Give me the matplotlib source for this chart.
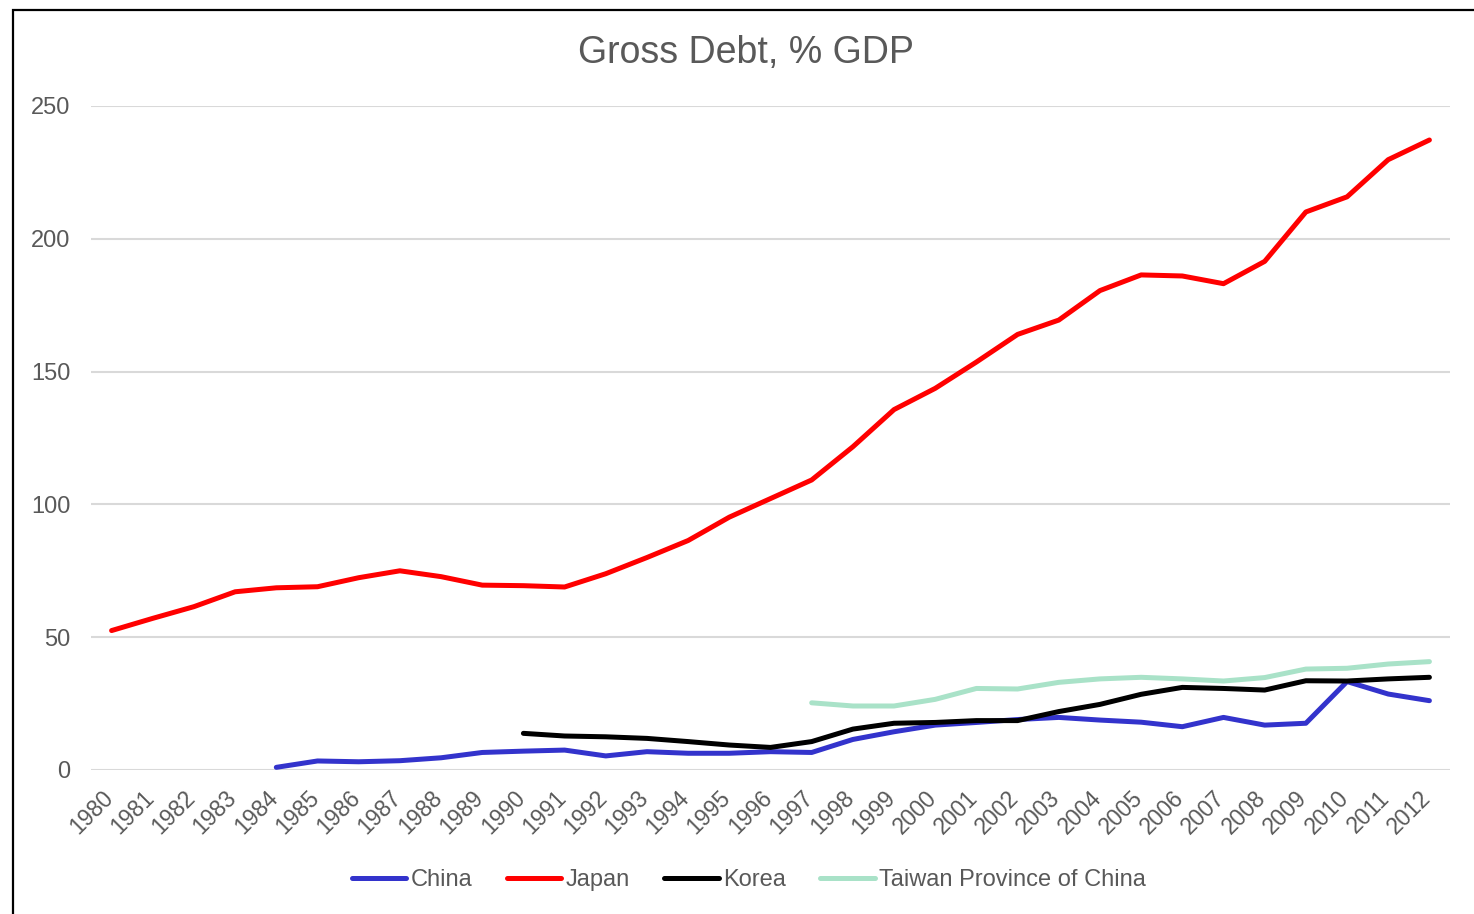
import matplotlib
matplotlib.use("Agg")
import matplotlib.pyplot as plt
from matplotlib.patches import Rectangle
from matplotlib.transforms import ScaledTranslation
import numpy as np

plt.rcParams['font.family'] = ['Liberation Sans', 'DejaVu Sans']

years = [str(y) for y in range(1980, 2013)]
nan = np.nan

china = [nan, nan, nan, nan, 1.0, 3.4, 3.1, 3.5, 4.6, 6.6,
         7.1, 7.5, 5.3, 6.9, 6.3, 6.3, 6.9, 6.6, 11.5, 14.4,
         16.9, 17.9, 19.0, 19.8, 18.8, 18.0, 16.3, 19.8, 16.9, 17.6,
         33.3, 28.6, 26.1]
japan = [52.5, 57.1, 61.5, 67.1, 68.6, 69.0, 72.4, 75.0, 72.8, 69.6,
         69.4, 68.9, 73.9, 80.0, 86.4, 95.2, 102.2, 109.2, 121.7, 135.7,
         143.7, 153.6, 164.0, 169.4, 180.5, 186.4, 186.0, 183.1, 191.5, 210.1,
         215.8, 229.8, 237.2]
korea = [nan, nan, nan, nan, nan, nan, nan, nan, nan, nan,
         13.8, 12.8, 12.5, 11.9, 10.7, 9.4, 8.5, 10.7, 15.4, 17.6,
         17.9, 18.6, 18.6, 22.0, 24.7, 28.5, 31.1, 30.7, 30.1, 33.6,
         33.5, 34.3, 34.9]
taiwan = [nan, nan, nan, nan, nan, nan, nan, nan, nan, nan,
          nan, nan, nan, nan, nan, nan, nan, 25.3, 24.1, 24.1,
          26.6, 30.7, 30.5, 33.0, 34.3, 34.9, 34.3, 33.5, 34.8, 38.0,
          38.3, 39.9, 40.8]

series = [("China", china, "#3333CC"),
          ("Japan", japan, "#FF0000"),
          ("Korea", korea, "#000000"),
          ("Taiwan Province of China", taiwan, "#A9E2C8")]

txt = "#595959"
W, H = 1474, 914
fig = plt.figure(figsize=(W / 100, H / 100), dpi=100)
ax = fig.add_axes([91 / W, 1 - 770 / H, (1450 - 91) / W, (770 - 106) / H])

x = np.arange(len(years))
for name, vals, col in series:
    ax.plot(x, vals, color=col, lw=3.6, label=name,
            solid_capstyle='round', solid_joinstyle='round')

ax.set_xlim(-0.5, len(years) - 0.5)
ax.set_ylim(0, 250)
ax.set_yticks(range(0, 251, 50))
ax.set_xticks(x)
ax.set_xticklabels(years, rotation=45, ha='right', va='top')
ax.tick_params(axis='x', length=0, pad=12, labelsize=16.5, colors=txt)
ax.tick_params(axis='y', length=0, pad=15, labelsize=17, colors=txt)
# nudge the slanted year labels a little to the right
shift = ScaledTranslation(6 / 100, 0, fig.dpi_scale_trans)
for lab in ax.get_xticklabels():
    lab.set_transform(lab.get_transform() + shift)
ax.grid(axis='y', color='#D9D9D9', lw=1.5)
ax.set_axisbelow(True)
for s in ax.spines.values():
    s.set_visible(False)
ax.patch.set_alpha(0)

fig.text(746 / W, 1 - 53 / H, "Gross Debt, % GDP", ha='center', va='center',
         fontsize=27, color=txt)

leg = fig.legend(loc='center', bbox_to_anchor=(749 / W, 1 - 880 / H), ncol=4,
                 frameon=False, fontsize=17, handlelength=2.3,
                 handletextpad=0.2, columnspacing=1.45)
for t in leg.get_texts():
    t.set_color(txt)

# outer frame of the chart area
fig.patches.append(Rectangle((13 / W, -0.05), 1.1, 1 - 10 / H + 0.05,
                             transform=fig.transFigure, fill=False,
                             edgecolor='black', lw=1.6))

fig.savefig("out.png", dpi=100)
